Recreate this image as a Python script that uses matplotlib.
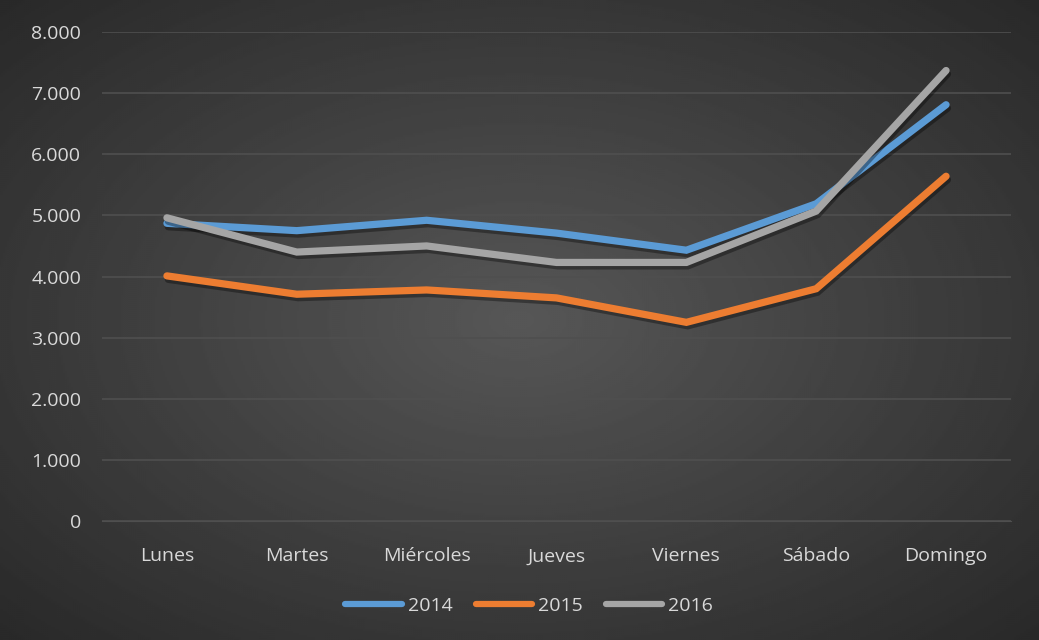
import numpy as np
import matplotlib
matplotlib.use("Agg")
import matplotlib.pyplot as plt
import matplotlib.patheffects as pe

# ── data ───────────────────────────────────────────────────────────────────────
days = ["Lunes", "Martes", "Miércoles", "Jueves", "Viernes", "Sábado", "Domingo"]
s2014 = [4870, 4750, 4920, 4710, 4430, 5190, 6810]
s2015 = [4010, 3710, 3780, 3650, 3250, 3800, 5640]
s2016 = [4960, 4400, 4500, 4230, 4230, 5070, 7370]
years = ["2014", "2015", "2016"]
colors = ["#5B9BD5", "#ED7D31", "#A5A5A5"]

plt.rcParams["font.family"] = ["Open Sans", "DejaVu Sans"]
TXT = "#D9D9D9"

fig = plt.figure(figsize=(10.39, 6.4), dpi=100)

# radial gradient background
bg = fig.add_axes([0, 0, 1, 1], zorder=0)
yy, xx = np.mgrid[-1:1:320j, -1:1:520j]
r = np.sqrt(xx ** 2 + yy ** 2) / np.sqrt(2)
shade = 0.34 - 0.18 * r
bg.imshow(shade, cmap="gray", vmin=0, vmax=1, aspect="auto",
          extent=[0, 1, 0, 1])
bg.axis("off")

ax = fig.add_axes([102 / 1039, 1 - 521 / 640, 909 / 1039, 489 / 640], zorder=1)
ax.patch.set_alpha(0)
x = np.arange(len(days))
shadow = [pe.SimpleLineShadow(offset=(1, -2.5), shadow_color="black", alpha=0.35),
          pe.Normal()]
for vals, lab, col in zip([s2014, s2015, s2016], years, colors):
    ax.plot(x, vals, color=col, lw=5.2, label=lab, solid_capstyle="round",
            solid_joinstyle="miter", path_effects=shadow)

ax.set_xlim(-0.5, len(days) - 0.5)
ax.set_ylim(0, 8000)
ax.set_yticks(range(0, 8001, 1000))
ax.set_yticklabels(["0"] + [f"{v // 1000}.000" for v in range(1000, 8001, 1000)])
ax.set_xticks(x)
ax.set_xticklabels(days)
ax.tick_params(colors=TXT, labelsize=14, length=0)
ax.tick_params(axis="y", pad=15)
ax.tick_params(axis="x", pad=19)
ax.grid(axis="y", color="#4f4f4f", lw=1.2)
ax.set_axisbelow(True)
for sp in ax.spines.values():
    sp.set_visible(False)
ax.spines["bottom"].set_visible(True)
ax.spines["bottom"].set_color("#4f4f4f")

leg = ax.legend(loc="center", bbox_to_anchor=(0.47, (521 - 606) / 489), ncol=3,
                frameon=False, fontsize=14, handlelength=2.9, columnspacing=1.2,
                handletextpad=0.3)
for t in leg.get_texts():
    t.set_color(TXT)
for h in leg.get_lines():
    h.set_path_effects([])
    h.set_linewidth(4.5)

fig.savefig("out.png", dpi=100)
